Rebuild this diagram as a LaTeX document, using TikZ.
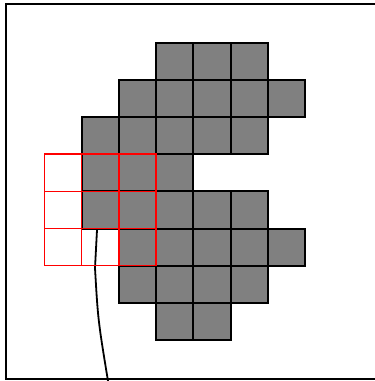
\documentclass[tikz,border=0pt]{standalone}
\begin{document}
\begin{tikzpicture}[x=1pt, y=-1pt, line join=miter]
	\tikzset{cell/.style={draw=black, fill=gray, line width=2pt},
		window/.style={draw=red, line width=1.5pt}}
	
	\def \xo{44.5}
	\def \yo{42.5}
	\def \cs{37.2}
	\useasboundingbox (0,0) rectangle (375,381);
	\draw[line width=2pt] (375,4) -- (6,4) -- (6,379) -- (375,379);
	% rows of gray cells: row / first column / last column
	\foreach \r/\a/\b in {0/3/5,1/2/6,2/1/5,3/1/3,4/1/5,5/2/6,6/2/5,7/3/4}
	\foreach \c in {\a,...,\b}
	\draw[cell] (\xo+\c*\cs,\yo+\r*\cs) rectangle ++(\cs,\cs);
	\coordinate (top) at (97,230);
	\coordinate (mid) at (95,268);
	\coordinate (end) at (108,381);
	\draw[line width=1.8pt] (top) -- (mid) .. controls (98,320) .. (end);
	\foreach \r in {3,4,5}
	\foreach \c in {0,1,2}
	\draw[window] (\xo+\c*\cs,\yo+\r*\cs) rectangle ++(\cs,\cs);
\end{tikzpicture}
\end{document}
